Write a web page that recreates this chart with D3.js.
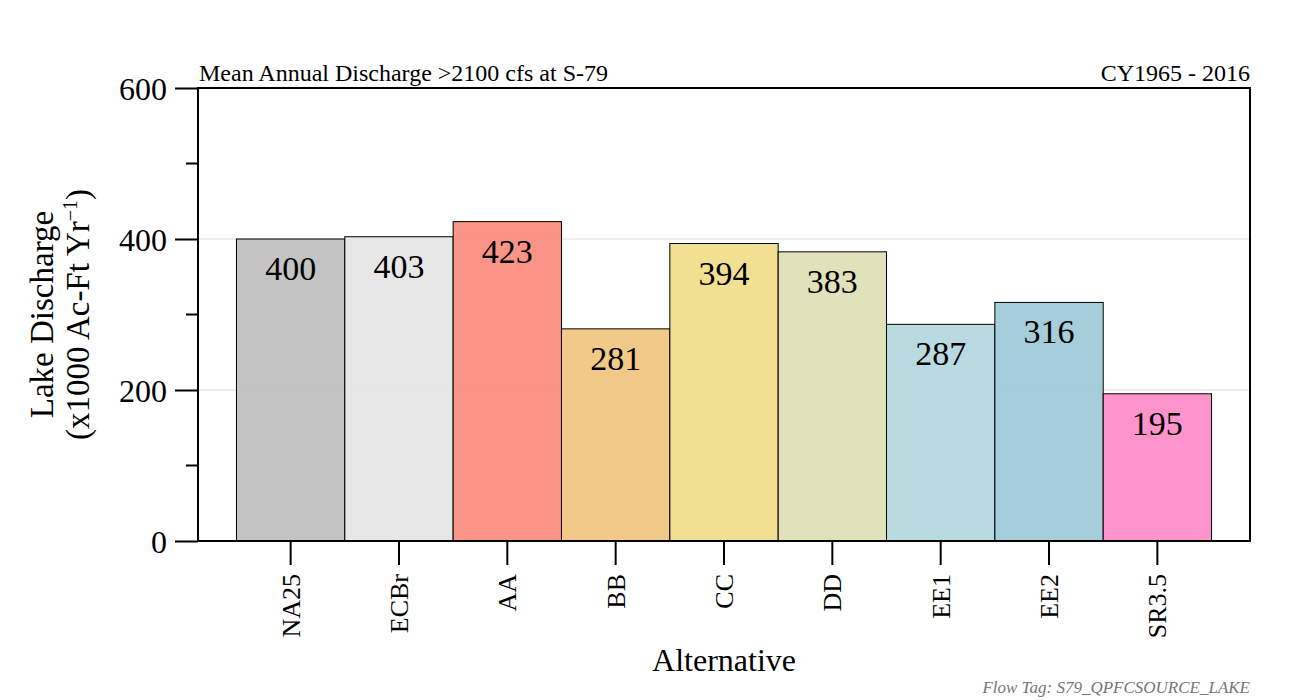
<!DOCTYPE html>
<html>
    <head>
        <meta charset="utf-8">
        <script src="https://d3js.org/d3.v7.min.js"></script>
        <style>
            body { margin: 0; background: #fff; }
            text { font-family: "Liberation Serif", "Times New Roman", serif; fill: #000; }
        </style>
    </head>
    <body>
        <div id="chartContainer"></div>
        <script type="text/javascript">

        // chart data
        var alternatives = ["NA25", "ECBr", "AA", "BB", "CC", "DD", "EE1", "EE2", "SR3.5"];
        var discharge = [400, 403, 423, 281, 394, 383, 287, 316, 195];
        var barColors = ["#bebebe", "#e5e5e5", "#f88b7c", "#f0c680", "#f1dd89", "#dfe0b4", "#b4d7df", "#9ecad7", "#ff8ac8"];
        var majorTicks = [0, 200, 400, 600];
        var minorTicks = [100, 300, 500];

        var width = 1300, height = 700;
        var margin = {left: 198, right: 50, top: 88, bottom: 159};
        var w = width - margin.left - margin.right,
            h = height - margin.top - margin.bottom;

        var svg = d3.select("#chartContainer").append("svg")
            .attr("width", width)
            .attr("height", height);

        var g = svg.append("g")
            .attr("transform", "translate(" + margin.left + "," + margin.top + ")");

        var x = d3.scaleBand()
            .domain(alternatives)
            .range([0, w])
            .paddingInner(0)
            .paddingOuter(0.355);

        var y = d3.scaleLinear()
            .domain([0, 600])
            .range([h, 0]);

        // gridlines
        g.selectAll(".grid")
            .data([200, 400])
            .enter().append("line")
            .attr("x1", 0).attr("x2", w)
            .attr("y1", function(d) { return y(d); })
            .attr("y2", function(d) { return y(d); })
            .style("stroke", "#dcdcdc")
            .style("stroke-width", 1);

        // bars
        g.selectAll(".bar")
            .data(discharge)
            .enter().append("rect")
            .attr("x", function(d, i) { return x(alternatives[i]); })
            .attr("y", function(d) { return y(d); })
            .attr("width", x.bandwidth())
            .attr("height", function(d) { return h - y(d); })
            .style("fill", function(d, i) { return barColors[i]; })
            .style("fill-opacity", 0.92)
            .style("stroke", "#000")
            .style("stroke-width", 1);

        // value labels inside bar tops
        g.selectAll(".val")
            .data(discharge)
            .enter().append("text")
            .attr("x", function(d, i) { return x(alternatives[i]) + x.bandwidth() / 2; })
            .attr("y", function(d) { return y(d) + 41; })
            .attr("text-anchor", "middle")
            .style("font-size", "34px")
            .text(function(d) { return d; });

        // frame
        g.append("rect")
            .attr("x", 0).attr("y", 0)
            .attr("width", w).attr("height", h)
            .style("fill", "none")
            .style("stroke", "#000")
            .style("stroke-width", 2);

        // y axis
        var yAxis = d3.axisLeft(y).tickValues(majorTicks).tickSize(23).tickPadding(8);
        var ya = g.append("g").call(yAxis);
        ya.select(".domain").remove();
        ya.selectAll(".tick line").style("stroke", "#000").style("stroke-width", 2);
        ya.selectAll(".tick text")
            .style("font-size", "32px")
            .style("font-family", "Liberation Serif, serif")
            .attr("dy", "0.35em");

        g.selectAll(".minor")
            .data(minorTicks)
            .enter().append("line")
            .attr("x1", -12).attr("x2", 0)
            .attr("y1", function(d) { return y(d); })
            .attr("y2", function(d) { return y(d); })
            .style("stroke", "#000")
            .style("stroke-width", 2);

        // x axis
        var xAxis = d3.axisBottom(x).tickSize(24).tickPadding(8);
        var xa = g.append("g")
            .attr("transform", "translate(0," + h + ")")
            .call(xAxis);
        xa.select(".domain").remove();
        xa.selectAll(".tick line").style("stroke", "#000").style("stroke-width", 2);
        xa.selectAll(".tick text")
            .style("font-size", "26px")
            .style("font-family", "Liberation Serif, serif")
            .attr("transform", "rotate(-90)")
            .attr("text-anchor", "end")
            .attr("x", -33)
            .attr("y", 0)
            .attr("dy", "0.35em");

        // titles
        svg.append("text")
            .attr("x", 199)
            .attr("y", 81)
            .style("font-size", "24px")
            .text("Mean Annual Discharge >2100 cfs at S-79");

        svg.append("text")
            .attr("x", 1250)
            .attr("y", 81)
            .attr("text-anchor", "end")
            .style("font-size", "24px")
            .text("CY1965 - 2016");

        var yTitle = svg.append("text")
            .attr("transform", "translate(0," + (margin.top + h / 2) + ") rotate(-90)")
            .attr("text-anchor", "middle")
            .style("font-size", "33px");
        yTitle.append("tspan").attr("x", 0).attr("y", 53).text("Lake Discharge");
        var l2 = yTitle.append("tspan").attr("x", 0).attr("y", 89).text("(x1000 Ac-Ft Yr");
        l2.append("tspan").attr("dy", -12).style("font-size", "20px").text("\u22121");
        l2.append("tspan").attr("dy", 12).text(")");

        svg.append("text")
            .attr("x", margin.left + w / 2)
            .attr("y", 671)
            .attr("text-anchor", "middle")
            .style("font-size", "32px")
            .text("Alternative");

        svg.append("text")
            .attr("x", 1250)
            .attr("y", 693)
            .attr("text-anchor", "end")
            .style("font-size", "17px")
            .style("font-style", "italic")
            .style("fill", "#777")
            .text("Flow Tag: S79_QPFCSOURCE_LAKE");
        </script>
    </body>
</html>
